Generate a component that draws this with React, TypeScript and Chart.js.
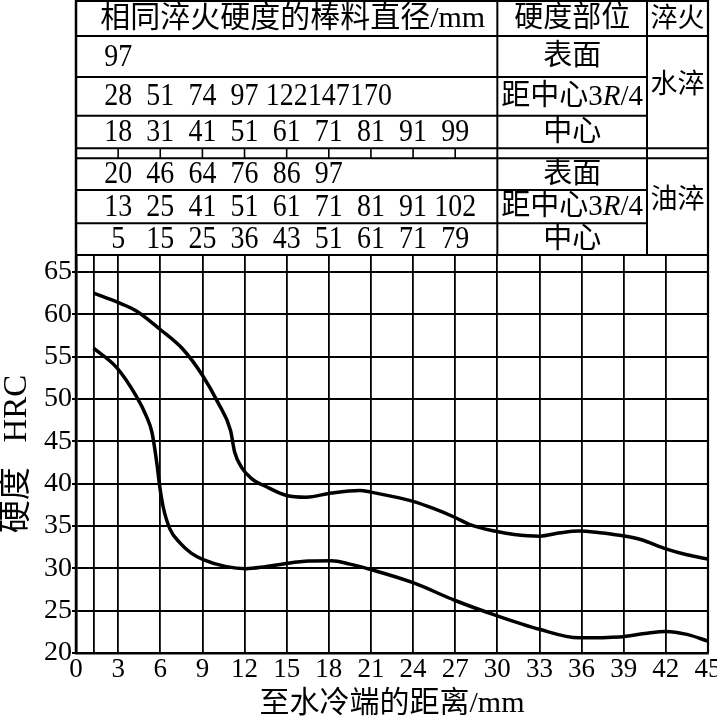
import React, { useEffect, useRef } from "react";
import { Chart, registerables } from "chart.js";

Chart.register(...registerables);

// ---- axes ----
const xTicks = [0, 3, 6, 9, 12, 15, 18, 21, 24, 27, 30, 33, 36, 39, 42, 45];
const extraGridX = 1.25;
const xMin = 0;
const xMax = 45;
const yMin = 20;
const yMax = 67;
const yStep = 5;
const xTitle = "至水冷端的距离/mm";
const yTitle = "硬度   HRC";

// ---- curves (distance mm, hardness HRC) ----
const upperX = [1.25, 3, 4.3, 6, 7.6, 9, 10.1, 11, 11.3, 11.8, 12.5, 13.6, 15, 16.4, 18.2, 20.2, 21, 22.5, 24, 25.4, 27, 28, 29.8, 31.2, 33, 34.5, 35.8, 37.3, 38.7, 40.2, 42, 43.5, 45];
const upperY = [62.5, 61.4, 60.4, 58.2, 55.9, 52.8, 49.6, 46.3, 43.7, 41.9, 40.6, 39.6, 38.6, 38.4, 38.9, 39.2, 39.0, 38.5, 37.9, 37.1, 36.0, 35.2, 34.4, 34.0, 33.8, 34.2, 34.4, 34.2, 33.9, 33.4, 32.3, 31.6, 31.1];

const lowerX = [1.25, 2.9, 4.3, 5.0, 5.4, 5.75, 5.95, 6.2, 6.7, 7.4, 8.2, 9.1, 10.7, 12.1, 13.5, 15.1, 16.6, 18.2, 19.5, 21, 24, 27, 29.8, 33, 35.8, 38.7, 40.5, 42, 43.5, 45];
const lowerY = [56.0, 53.7, 50.3, 48.0, 46.1, 42.5, 39.8, 37.3, 34.6, 33.0, 31.8, 31.0, 30.2, 29.95, 30.2, 30.6, 30.85, 30.9, 30.5, 29.85, 28.3, 26.2, 24.5, 22.8, 21.8, 21.9, 22.3, 22.55, 22.2, 21.4];

// ---- table ----
const headerDiameter = "相同淬火硬度的棒料直径/mm";
const headerPosition = "硬度部位";
const headerQuench = "淬火";
const quenchLabels = ["水淬", "油淬"];
const positionLabels = ["表面", "距中心3R/4", "中心"];
const tableDistances = [3, 6, 9, 12, 15, 18, 21, 24, 27];
const waterSurface = [97];
const water34 = [28, 51, 74, 97, 122, 147, 170];
const waterCenter = [18, 31, 41, 51, 61, 71, 81, 91, 99];
const oilSurface = [20, 46, 64, 76, 86, 97];
const oil34 = [13, 25, 41, 51, 61, 71, 81, 91, 102];
const oilCenter = [5, 15, 25, 36, 43, 51, 61, 71, 79];

const FAMILY = '"Liberation Serif", "Noto Sans CJK SC", serif';

const tablePlugin = {
  id: "hardnessTable",
  afterDraw(chart: any) {
    const { ctx, chartArea: ca, scales } = chart;
    const xs = scales.x;
    const L = ca.left;
    const R = ca.right;
    const T = ca.top;
    const rowY = [1, 36, 77, 115.7, 148.3, 158.3, 190, 223.3, T];
    const colA = xs.getPixelForValue(30);
    const colB = R - 61;

    ctx.save();
    ctx.strokeStyle = "#000";
    ctx.fillStyle = "#000";
    const line = (x1: number, y1: number, x2: number, y2: number, w = 2) => {
      ctx.lineWidth = w;
      ctx.beginPath();
      ctx.moveTo(x1, y1);
      ctx.lineTo(x2, y2);
      ctx.stroke();
    };
    line(L, rowY[0], R, rowY[0], 2);
    [rowY[1], rowY[4], rowY[5], rowY[8]].forEach((y) => line(L, y, R, y, 2));
    [rowY[2], rowY[3], rowY[6], rowY[7]].forEach((y) => line(L, y, colB, y, 2));
    line(L, 0, L, ca.bottom, 2.5);
    line(R, 0, R, ca.bottom, 2.2);
    line(colA, 0, colA, T, 2);
    line(colB, 0, colB, T, 2);
    tableDistances.forEach((d) => {
      const px = xs.getPixelForValue(d);
      line(px, rowY[4], px, rowY[5], 1.6);
    });

    const text = (s: string, x: number, y: number, size: number, sx = 1) => {
      ctx.save();
      ctx.translate(x, y);
      ctx.scale(sx, 1);
      ctx.font = `${size}px ${FAMILY}`;
      ctx.textAlign = "center";
      ctx.textBaseline = "middle";
      ctx.fillText(s, 0, 0);
      ctx.restore();
    };
    const rich = (x: number, y: number, size: number) => {
      const parts = [
        { t: "距中心3", f: `${size}px ${FAMILY}` },
        { t: "R", f: `italic ${size}px ${FAMILY}` },
        { t: "/4", f: `${size}px ${FAMILY}` },
      ];
      let total = 0;
      parts.forEach((p) => {
        ctx.font = p.f;
        total += ctx.measureText(p.t).width;
      });
      let cx = x - total / 2;
      ctx.textAlign = "left";
      ctx.textBaseline = "middle";
      parts.forEach((p) => {
        ctx.font = p.f;
        ctx.fillText(p.t, cx, y);
        cx += ctx.measureText(p.t).width;
      });
    };

    const hy = (rowY[0] + rowY[1]) / 2 + 1;
    text(headerDiameter, (L + colA) / 2 + 6, hy, 30);
    text(headerPosition, (colA + colB) / 2, hy, 29);
    text(headerQuench, (colB + R) / 2, hy, 27);

    const groups = [
      { rows: [waterSurface, water34, waterCenter], start: 1 },
      { rows: [oilSurface, oil34, oilCenter], start: 5 },
    ];
    groups.forEach((g, gi) => {
      g.rows.forEach((vals, ri) => {
        const y0 = rowY[g.start + ri];
        const y1 = rowY[g.start + ri + 1];
        const cy = (y0 + y1) / 2 + 1;
        vals.forEach((v, i) => {
          text(String(v), xs.getPixelForValue(tableDistances[i]), cy, 31, 0.9);
        });
        const mid = (colA + colB) / 2;
        if (ri === 1) rich(mid, cy, 29);
        else text(positionLabels[ri], mid, cy, 29);
      });
      const top = rowY[g.start];
      const bot = rowY[g.start + 3];
      text(quenchLabels[gi], (colB + R) / 2, (top + bot) / 2 - 6, 27);
    });
    ctx.restore();
  },
};

export default function App() {
  const ref = useRef<HTMLCanvasElement | null>(null);
  useEffect(() => {
    if (!ref.current) return;
    const chart = new Chart(ref.current, {
      type: "line",
      data: {
        datasets: [
          {
            data: upperX.map((x, i) => ({ x, y: upperY[i] })),
            borderColor: "#000",
            borderWidth: 3.5,
            pointRadius: 0,
            cubicInterpolationMode: "monotone",
            fill: false,
          },
          {
            data: lowerX.map((x, i) => ({ x, y: lowerY[i] })),
            borderColor: "#000",
            borderWidth: 3.5,
            pointRadius: 0,
            cubicInterpolationMode: "monotone",
            fill: false,
          },
        ],
      },
      options: {
        animation: false,
        responsive: false,
        maintainAspectRatio: false,
        devicePixelRatio: 1,
        layout: { padding: { top: 255, right: 9, left: 0, bottom: 0 } },
        plugins: { legend: { display: false }, tooltip: { enabled: false } },
        scales: {
          x: {
            type: "linear",
            min: xMin,
            max: xMax,
            afterBuildTicks: (s: any) => {
              s.ticks = [...xTicks, extraGridX].sort((a, b) => a - b).map((v) => ({ value: v }));
            },
            afterFit: (s: any) => {
              s.height = 66;
              s.paddingLeft = 0;
              s.paddingRight = 0;
            },
            ticks: {
              autoSkip: false,
              maxRotation: 0,
              padding: 1,
              color: "#000",
              font: { family: FAMILY, size: 27 },
              callback: (v: any) => (xTicks.includes(v) ? String(v) : ""),
            },
            grid: { color: "#000", lineWidth: 1.8, drawTicks: false },
            border: { color: "#000", width: 2.5 },
            title: {
              display: true,
              text: xTitle,
              color: "#000",
              padding: 0,
              font: { family: FAMILY, size: 30, lineHeight: 1 },
            },
          },
          y: {
            type: "linear",
            min: yMin,
            max: yMax,
            afterFit: (s: any) => {
              s.width = 76;
              s.paddingTop = 0;
              s.paddingBottom = 0;
            },
            ticks: {
              stepSize: yStep,
              includeBounds: false,
              padding: 0,
              color: "#000",
              font: { family: FAMILY, size: 28 },
            },
            grid: { color: "#000", lineWidth: 2, drawTicks: true, tickLength: 4, tickColor: "#000" },
            border: { color: "#000", width: 2.5 },
            title: {
              display: true,
              text: yTitle,
              color: "#000",
              padding: { top: 1, bottom: 0 },
              font: { family: FAMILY, size: 33, lineHeight: 1 },
            },
          },
        },
      },
      plugins: [tablePlugin],
    } as any);
    return () => chart.destroy();
  }, []);
  return (
    <div style={{ position: "fixed", left: 0, top: 0, width: 717, height: 719, background: "#fff" }}>
      <canvas ref={ref} width={717} height={719} style={{ display: "block" }} />
    </div>
  );
}
